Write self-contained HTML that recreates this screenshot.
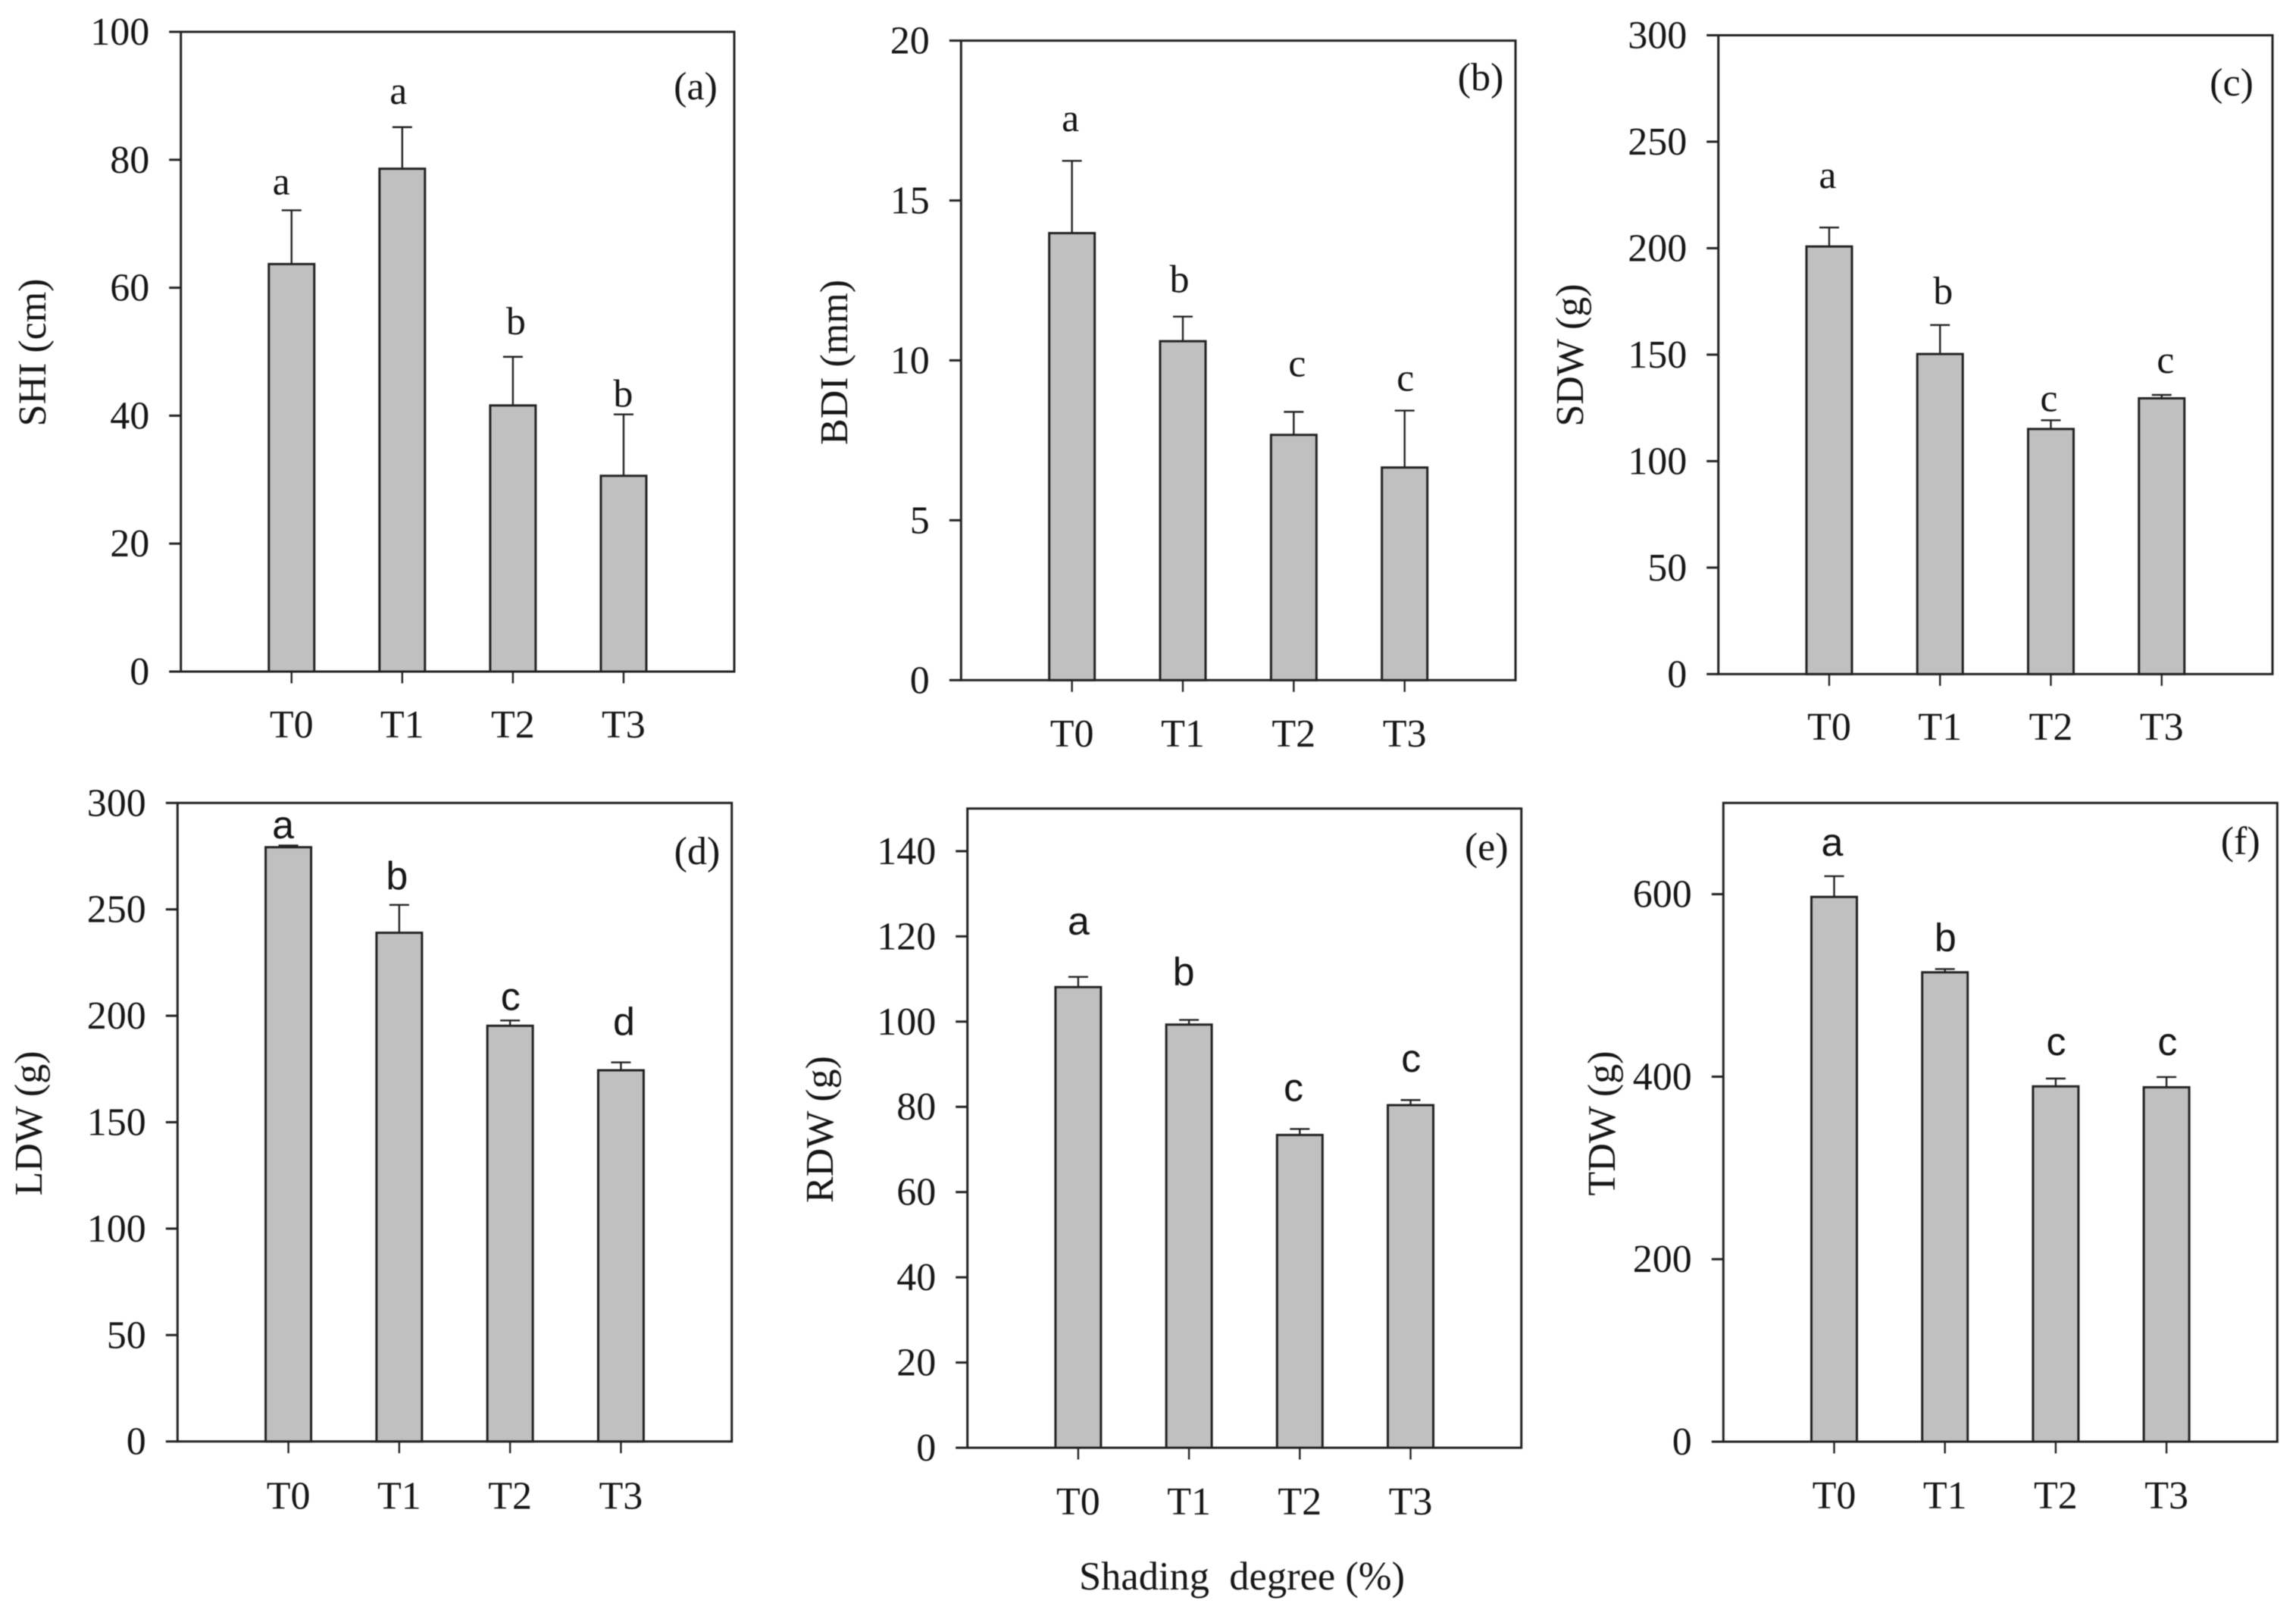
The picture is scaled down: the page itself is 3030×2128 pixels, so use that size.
<!DOCTYPE html>
<html lang="en">
<head>
<meta charset="utf-8">
<title>Shading degree bar charts</title>
<style>
  html, body { margin: 0; padding: 0; background: #fff; width: 3030px; height: 2128px; overflow: hidden; }
  svg { display: block; filter: blur(0.6px); }
  text { font-family: "Liberation Serif", serif; fill: #161616; }
</style>
</head>
<body>
<svg id="figure" xmlns="http://www.w3.org/2000/svg" width="3030" height="2128" viewBox="0 0 3030 2128">
  <rect x="0" y="0" width="3030" height="2128" fill="#ffffff"></rect>
  <text x="1639" y="2097" font-size="52.5" text-anchor="middle" style="white-space:pre">Shading  degree (%)</text>
</svg>
<script>
// Shared category labels
const categories = ['T0', 'T1', 'T2', 'T3'];

// (a) SHI
const shiValues = [63.7, 78.6, 41.6, 30.6];
const shiErrorTops = [72.1, 85.1, 49.2, 40.2];
const shiLetters = ['a', 'a', 'b', 'b'];
const shiTicks = [0, 20, 40, 60, 80, 100];

// (b) BDI
const bdiValues = [13.98, 10.6, 7.67, 6.65];
const bdiErrorTops = [16.24, 11.37, 8.39, 8.43];
const bdiLetters = ['a', 'b', 'c', 'c'];
const bdiTicks = [0, 5, 10, 15, 20];

// (c) SDW
const sdwValues = [200.8, 150.3, 115.1, 129.5];
const sdwErrorTops = [209.7, 163.9, 119.2, 131.1];
const sdwLetters = ['a', 'b', 'c', 'c'];
const sdwTicks = [0, 50, 100, 150, 200, 250, 300];

// (d) LDW
const ldwValues = [279.2, 239, 195.3, 174.4];
const ldwErrorTops = [280, 252.1, 197.8, 178.1];
const ldwLetters = ['a', 'b', 'c', 'd'];
const ldwTicks = [0, 50, 100, 150, 200, 250, 300];

// (e) RDW
const rdwValues = [108.1, 99.3, 73.4, 80.4];
const rdwErrorTops = [110.5, 100.4, 74.8, 81.6];
const rdwLetters = ['a', 'b', 'c', 'c'];
const rdwTicks = [0, 20, 40, 60, 80, 100, 120, 140];

// (f) TDW
const tdwValues = [597, 514.4, 389.4, 388.4];
const tdwErrorTops = [619.7, 518, 398, 399.6];
const tdwLetters = ['a', 'b', 'c', 'c'];
const tdwTicks = [0, 200, 400, 600];

const SVG_NS = 'http://www.w3.org/2000/svg';
const SERIF = '"Liberation Serif", serif';
const SANS = '"Liberation Sans", sans-serif';
const INK = '#222222';
const STROKE = 3;
const THIN = 2.4;
const BAR_W = 60;
const CAP_W = 26;
const TICK_LEN = 15.5;
const TICK_FONT = 52;
const TITLE_FONT = 52;
const TAG_FONT = 52;
const LETTER_FONT = 52;
const LABEL_GAP = 41.5;

// Panel frames and label placement (layout only; values come from the arrays above)
const panels = [
  { key: 'shi', tag: '(a)', title: 'SHI (cm)', values: shiValues, errorTops: shiErrorTops, letters: shiLetters, ticks: shiTicks, yMax: 100,
    l: 238.7, r: 969, t: 42, b: 886, xLabelDrop: 87, titleX: 60, titleY: 465, tagX: 918, tagY: 131,
    letterFont: SERIF, letterGap: [21, 31, 30, 10], letterShift: [-13.6, -5, 4, -0.6] },
  { key: 'bdi', tag: '(b)', title: 'BDI (mm)', values: bdiValues, errorTops: bdiErrorTops, letters: bdiLetters, ticks: bdiTicks, yMax: 20,
    l: 1268.3, r: 2000, t: 53.6, b: 897.3, xLabelDrop: 87.7, titleX: 1118, titleY: 478, tagX: 1954, tagY: 119,
    letterFont: SERIF, letterGap: [39, 32, 47, 26], letterShift: [-2, -4.5, 4.5, 1] },
  { key: 'sdw', tag: '(c)', title: 'SDW (g)', values: sdwValues, errorTops: sdwErrorTops, letters: sdwLetters, ticks: sdwTicks, yMax: 300,
    l: 2267.7, r: 2999, t: 46.5, b: 889.3, xLabelDrop: 86.7, titleX: 2089, titleY: 468.5, tagX: 2945, tagY: 126,
    letterFont: SERIF, letterGap: [52, 28, 12, 29], letterShift: [-2, 4, -2.5, 5] },
  { key: 'ldw', tag: '(d)', title: 'LDW (g)', values: ldwValues, errorTops: ldwErrorTops, letters: ldwLetters, ticks: ldwTicks, yMax: 300,
    l: 234.3, r: 965.7, t: 1059.3, b: 1901.7, xLabelDrop: 89, titleX: 55, titleY: 1482, tagX: 920, tagY: 1140,
    letterFont: SANS, letterGap: [9.5, 21, 14, 36], letterShift: [-7, -3, 0.6, 4] },
  { key: 'rdw', tag: '(e)', title: 'RDW (g)', values: rdwValues, errorTops: rdwErrorTops, letters: rdwLetters, ticks: rdwTicks, yMax: 150,
    l: 1276.7, r: 2007.7, t: 1066.7, b: 1910, xLabelDrop: 88, titleX: 1099, titleY: 1490, tagX: 1961.7, tagY: 1134.3,
    letterFont: SANS, letterGap: [56, 46, 37, 37], letterShift: [0.6, -7, -8.3, 0.6] },
  { key: 'tdw', tag: '(f)', title: 'TDW (g)', values: tdwValues, errorTops: tdwErrorTops, letters: tdwLetters, ticks: tdwTicks, yMax: 700,
    l: 2274.3, r: 3005.3, t: 1059.3, b: 1902, xLabelDrop: 88, titleX: 2131, titleY: 1482, tagX: 2956.7, tagY: 1126.7,
    letterFont: SANS, letterGap: [27, 24, 31, 29], letterShift: [-2.6, 0.6, 0.6, 1.3] }
];

function make(tag, attrs, parent, text) {
  const el = document.createElementNS(SVG_NS, tag);
  for (const k in attrs) el.setAttribute(k, attrs[k]);
  if (text !== undefined) el.textContent = text;
  parent.appendChild(el);
  return el;
}

// Axis functions
function xScale(p, index) {
  return p.l + (index + 1) / (categories.length + 1) * (p.r - p.l);
}
function yScale(p, value) {
  return p.b - value / p.yMax * (p.b - p.t);
}

const figure = document.getElementById('figure');

panels.forEach(function (p) {
  const g = make('g', {}, figure);
  
  

  const frame = make('rect', { x: p.l, y: p.t, width: p.r - p.l, height: p.b - p.t, fill: 'none', stroke: INK, 'stroke-width': STROKE }, g);
  
  

  p.ticks.forEach(function (tick) {
    const y = yScale(p, tick);
    const mark = make('line', { x1: p.l - TICK_LEN, x2: p.l, y1: y, y2: y, stroke: INK, 'stroke-width': STROKE }, g);
    
    
    const label = make('text', { x: p.l - LABEL_GAP, y: y + 17, 'font-size': TICK_FONT, 'text-anchor': 'end' }, g, String(tick));
    
    
  });

  categories.forEach(function (cat, i) {
    const cx = xScale(p, i);
    const top = yScale(p, p.values[i]);
    const errY = yScale(p, p.errorTops[i]);

    const stem = make('line', { x1: cx, x2: cx, y1: top, y2: errY, stroke: INK, 'stroke-width': THIN }, g);
    
    

    const cap = make('line', { x1: cx - CAP_W / 2, x2: cx + CAP_W / 2, y1: errY, y2: errY, stroke: INK, 'stroke-width': THIN }, g);
    
    

    const bar = make('rect', { x: cx - BAR_W / 2, y: top, width: BAR_W, height: p.b - top, fill: '#c0c0c0', stroke: INK, 'stroke-width': STROKE }, g);
    
    

    const xTick = make('line', { x1: cx, x2: cx, y1: p.b, y2: p.b + TICK_LEN, stroke: INK, 'stroke-width': THIN }, g);
    
    

    const xLabel = make('text', { x: cx, y: p.b + p.xLabelDrop, 'font-size': TICK_FONT, 'text-anchor': 'middle' }, g, cat);
    
    

    const letter = make('text', { x: cx + p.letterShift[i], y: errY - p.letterGap[i], 'font-size': LETTER_FONT, 'text-anchor': 'middle', style: 'font-family:' + p.letterFont }, g, p.letters[i]);
    
    
  });

  const yTitle = make('text', { x: p.titleX, y: p.titleY, 'font-size': TITLE_FONT, 'text-anchor': 'middle', transform: 'rotate(-90 ' + p.titleX + ' ' + p.titleY + ')' }, g, p.title);
  
  

  const tag = make('text', { x: p.tagX, y: p.tagY, 'font-size': TAG_FONT, 'text-anchor': 'middle' }, g, p.tag);
  
  
});
</script>
</body>
</html>
